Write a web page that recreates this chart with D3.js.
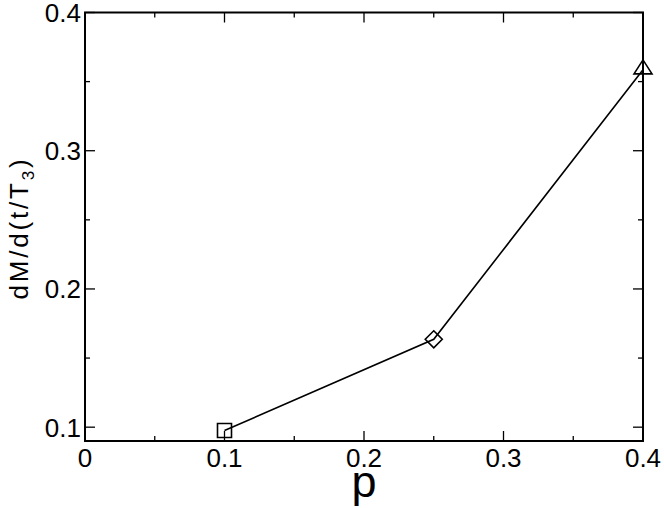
<!DOCTYPE html>
<html><head><meta charset="utf-8">
<script src="https://cdn.jsdelivr.net/npm/d3@7"></script>
<style>body{margin:0;background:#fff}svg{display:block}text{font-family:"Liberation Sans",Arial,sans-serif;fill:#000}</style>
</head><body>
<script>
const pValues = [0.1, 0.25, 0.4];
const rateValues = [0.0976, 0.1636, 0.3585];
const markerShapes = ["square", "diamond", "triangle"];
const xTicks = [0, 0.1, 0.2, 0.3, 0.4];
const xTickLabels = ["0", "0.1", "0.2", "0.3", "0.4"];
const yTicks = [0.1, 0.2, 0.3, 0.4];
const yTickLabels = ["0.1", "0.2", "0.3", "0.4"];
const xMinor = [0.05, 0.15, 0.25, 0.35];
const yMinor = [0.15, 0.25, 0.35];

const W = 664, H = 508;
const L = 85, R = 643, T = 12.5, B = 441;
const svg = d3.select("body").append("svg").attr("width", W).attr("height", H);
const x = d3.scaleLinear().domain([0, 0.4]).range([L, R]);
const y = d3.scaleLinear().domain([0.09, 0.4]).range([B, T]);

const g = svg.append("g");
g.append("rect").attr("x", L).attr("y", T).attr("width", R - L).attr("height", B - T)
  .attr("fill", "none").attr("stroke", "#000").attr("stroke-width", 2);

const tk = (arr, len) => {
  arr.forEach(v => {
    g.append("line").attr("x1", x(v)).attr("x2", x(v)).attr("y1", B).attr("y2", B - len).attr("stroke", "#000").attr("stroke-width", 1.3);
    g.append("line").attr("x1", x(v)).attr("x2", x(v)).attr("y1", T).attr("y2", T + len).attr("stroke", "#000").attr("stroke-width", 1.3);
  });
};
tk(xTicks, 10); tk(xMinor, 5);
const tky = (arr, len) => {
  arr.forEach(v => {
    g.append("line").attr("y1", y(v)).attr("y2", y(v)).attr("x1", L).attr("x2", L + len).attr("stroke", "#000").attr("stroke-width", 1.3);
    g.append("line").attr("y1", y(v)).attr("y2", y(v)).attr("x1", R).attr("x2", R - len).attr("stroke", "#000").attr("stroke-width", 1.3);
  });
};
tky(yTicks, 10); tky(yMinor, 5);

xTicks.forEach((v, i) => {
  g.append("text").attr("x", x(v)).attr("y", 467).attr("text-anchor", "middle")
    .attr("font-size", 26).text(xTickLabels[i]);
});
yTicks.forEach((v, i) => {
  g.append("text").attr("x", 81).attr("y", y(v) + 9.5).attr("text-anchor", "end")
    .attr("font-size", 26).text(yTickLabels[i]);
});

g.append("text").attr("x", (L + R) / 2).attr("y", 497).attr("text-anchor", "middle")
  .attr("font-size", 45).text("p");
const yt = g.append("text").attr("transform", "translate(28,228) rotate(-90)")
  .attr("text-anchor", "middle").attr("font-size", 26).style("letter-spacing", "2.8px");
yt.append("tspan").text("dM/d(t/T");
yt.append("tspan").attr("font-size", 17).attr("dy", 6).text("3");
yt.append("tspan").attr("dy", -6).text(")");

const data = pValues.map((p, i) => ({p, v: rateValues[i], s: markerShapes[i]}));
g.append("path").datum(data)
  .attr("d", d3.line().x(d => x(d.p)).y(d => y(d.v)))
  .attr("fill", "none").attr("stroke", "#000").attr("stroke-width", 1.6);

const symPath = s => {
  if (s === "square") return "M-7,-7H7V7H-7Z";
  if (s === "diamond") return "M0,-8.5L8.5,0L0,8.5L-8.5,0Z";
  return "M0,-10L9,4L-9,4Z";
};
g.selectAll(".m").data(data).enter().append("path")
  .attr("transform", d => `translate(${x(d.p)},${y(d.v)})`)
  .attr("d", d => symPath(d.s))
  .attr("fill", "none").attr("stroke", "#000").attr("stroke-width", 1.6);
</script>
</body></html>
